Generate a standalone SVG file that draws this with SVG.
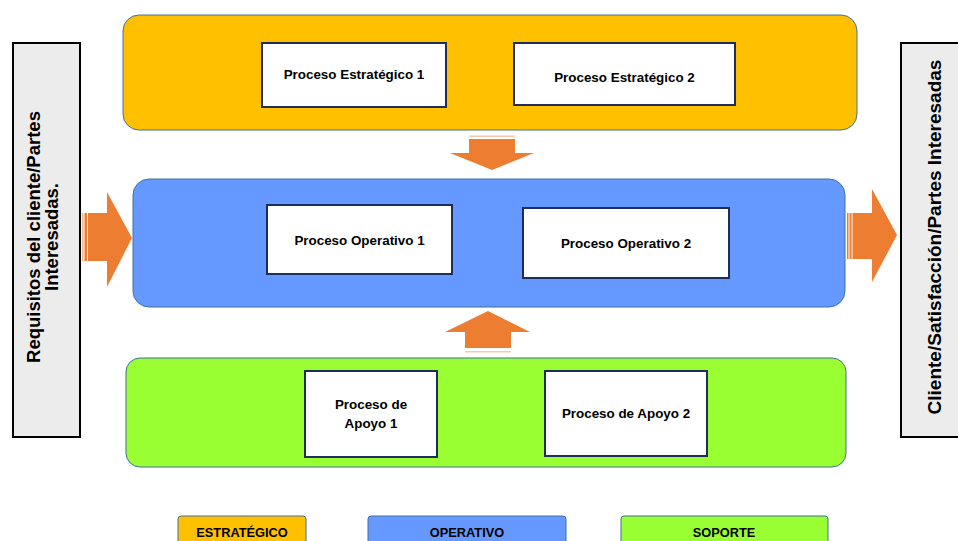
<svg xmlns="http://www.w3.org/2000/svg" width="958" height="541" viewBox="0 0 958 541">
<style>
.t{font-family:"Liberation Sans",Arial,sans-serif;font-weight:bold;fill:#000;text-anchor:middle}
.box{fill:#fff;stroke:#1f2d5a;stroke-width:2}
.panel{stroke:#41719c;stroke-width:1}
.side{fill:#ececec;stroke:#000;stroke-width:2}
.arr{fill:#ed7d31}
.stripe{fill:#f4b183}
.leg{stroke:#41719c;stroke-width:1}
</style>
<rect width="958" height="541" fill="#fff"/>
<g id="side-left">
<rect class="side" x="13" y="43" width="67" height="394"/>
<text class="t" font-size="18.5" transform="translate(40,237) rotate(-90)">Requisitos del cliente/Partes</text>
<text class="t" font-size="18.5" transform="translate(58,237) rotate(-90)">Interesadas.</text>
</g>
<g id="side-right">
<rect class="side" x="901" y="43" width="70" height="394"/>
<text class="t" font-size="19" transform="translate(941,237) rotate(-90)">Cliente/Satisfacción/Partes Interesadas</text>
</g>
<g id="panel-estrategico">
<rect class="panel" x="123" y="15" width="734" height="115" rx="16" fill="#ffc000"/>
</g>
<g id="panel-operativo">
<rect class="panel" x="133" y="179" width="712" height="128" rx="16" fill="#6699ff"/>
</g>
<g id="panel-soporte">
<rect class="panel" x="126" y="358" width="720" height="109" rx="14" fill="#99ff33"/>
</g>
<g id="pe1">
<rect class="box" x="262" y="43" width="184" height="64"/>
<text class="t" font-size="13.4" x="354" y="79">Proceso Estratégico 1</text>
</g>
<g id="pe2">
<rect class="box" x="514" y="43" width="221" height="62"/>
<text class="t" font-size="13.4" x="624.5" y="82">Proceso Estratégico 2</text>
</g>
<g id="po1">
<rect class="box" x="267" y="205" width="185" height="69"/>
<text class="t" font-size="13.4" x="359.5" y="245">Proceso Operativo 1</text>
</g>
<g id="po2">
<rect class="box" x="523" y="208" width="206" height="70"/>
<text class="t" font-size="13.4" x="626" y="248">Proceso Operativo 2</text>
</g>
<g id="pa1">
<rect class="box" x="305" y="371" width="132" height="86"/>
<text class="t" font-size="13.4" x="371" y="409">Proceso de</text>
<text class="t" font-size="13.4" x="371" y="428">Apoyo 1</text>
</g>
<g id="pa2">
<rect class="box" x="545" y="371" width="162" height="85"/>
<text class="t" font-size="13.4" x="626" y="418">Proceso de Apoyo 2</text>
</g>
<g id="connectors">
<rect class="stripe" x="82" y="213" width="1.5" height="48"/>
<rect class="arr" x="84.5" y="213" width="2.5" height="48"/>
<polygon class="arr" points="88,213 107,213 107,192 132,238 107,287 107,261 88,261"/>
<rect class="arr" x="847" y="213" width="1.5" height="46"/>
<rect class="arr" x="849.5" y="213" width="2" height="46"/>
<polygon class="arr" points="852.5,213 872,213 872,189 897,235 872,282 872,259 852.5,259"/>
<rect class="stripe" x="469" y="135.5" width="46" height="1.5" opacity="0.7"/>
<polygon class="arr" points="469,139 515,139 515,153 534,153 492,170 450,153 469,153"/>
<rect class="stripe" x="465" y="351" width="46" height="1.5" opacity="0.7"/>
<polygon class="arr" points="465,348 511,348 511,332 530,332 488,311 445,332 465,332"/>
</g>
<g id="legend-estrategico">
<rect class="leg" x="178" y="516" width="128" height="40" rx="3" fill="#ffc000"/>
<text class="t" font-size="12.8" x="242" y="537">ESTRATÉGICO</text>
</g>
<g id="legend-operativo">
<rect class="leg" x="368" y="516" width="198" height="40" rx="3" fill="#6699ff"/>
<text class="t" font-size="12.8" x="467" y="537">OPERATIVO</text>
</g>
<g id="legend-soporte">
<rect class="leg" x="621" y="516" width="207" height="40" rx="3" fill="#99ff33"/>
<text class="t" font-size="12.8" x="724" y="537">SOPORTE</text>
</g>
</svg>
